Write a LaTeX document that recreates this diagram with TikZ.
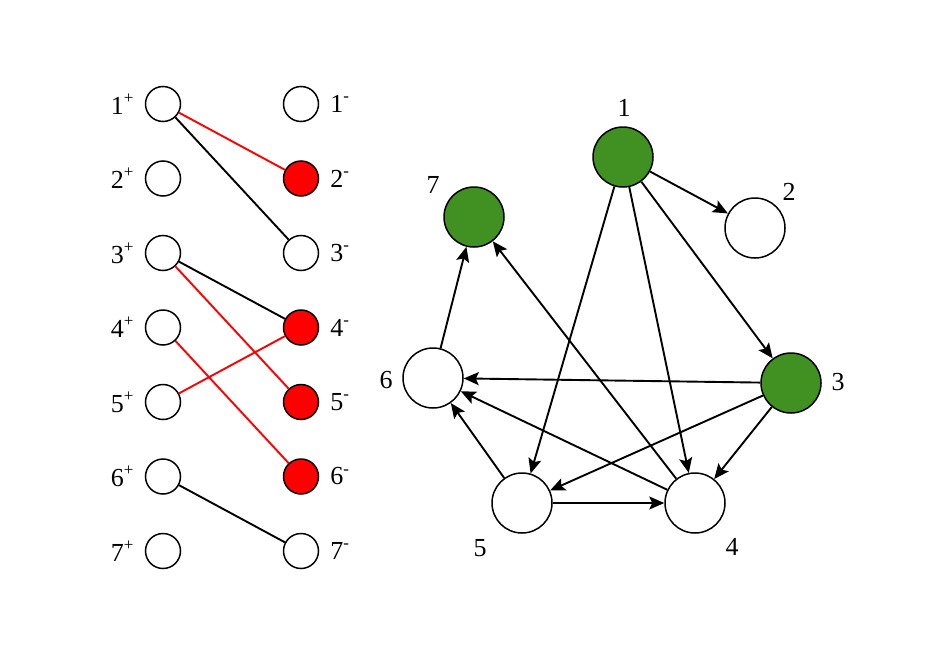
\documentclass[tikz,border=0pt]{standalone}
\usepackage{fontspec}
\setmainfont{Liberation Serif}
\usetikzlibrary{arrows.meta}
\definecolor{leafgreen}{RGB}{64,145,34}
\newcommand\upmark[1]{\raisebox{0.42em}{\fontsize{17}{17}\selectfont#1}}
\tikzset{
  dot/.style={circle,draw,line width=1.5pt,minimum size=35pt,inner sep=0pt},
  vert/.style={circle,draw,line width=1.5pt,minimum size=60pt,inner sep=0pt},
  lab/.style={font=\fontsize{26}{30}\selectfont,inner sep=0pt},
}
\begin{document}
\begin{tikzpicture}[x=1pt,y=-1pt,>={Stealth[length=15pt,width=13pt,inset=3pt]}]
\useasboundingbox (0,0) rectangle (939,645);
% cap ghep
\foreach \i/\c in {1/white,2/red,3/white,4/red,5/red,6/red,7/white}{
  \path (163,{104+74.5*(\i-1)}) node[dot] (p\i) {}
        (301,{104+74.5*(\i-1)}) node[dot,fill=\c] (m\i) {};
  \node[lab,anchor=east] at ([xshift=-11pt]p\i.west) {\i\upmark{+}};
  \node[lab,anchor=west] at ([xshift=11pt]m\i.east) {\i\upmark{-}};
}
\draw[red,line width=1.9pt] (p1)--(m2) (p3)--(m5) (p4)--(m6) (p5)--(m4);
\draw[line width=1.9pt] (p1)--(m3) (p3)--(m4) (p6)--(m7);
% do thi
\foreach \n/\x/\y/\c in {1/623/157/leafgreen,2/755/228/white,3/791/383/leafgreen,
    4/695/503/white,5/522/503/white,6/433/378/white,7/474/217/leafgreen}
  \node[vert,fill=\c] (v\n) at (\x,\y) {};
\foreach \n/\x/\y in {1/624/108,2/789/192,3/838/382,4/732/547,5/480/548,6/386/380,7/433/185}
  \node[lab] (t\n) at (\x,\y) {\n};
\foreach \a/\b in {1/2,1/3,1/4,1/5,3/6,3/5,3/4,5/4,5/6,4/6,4/7,6/7}
  \draw[->,line width=1.9pt] (v\a)--(v\b);
\end{tikzpicture}
\end{document}
